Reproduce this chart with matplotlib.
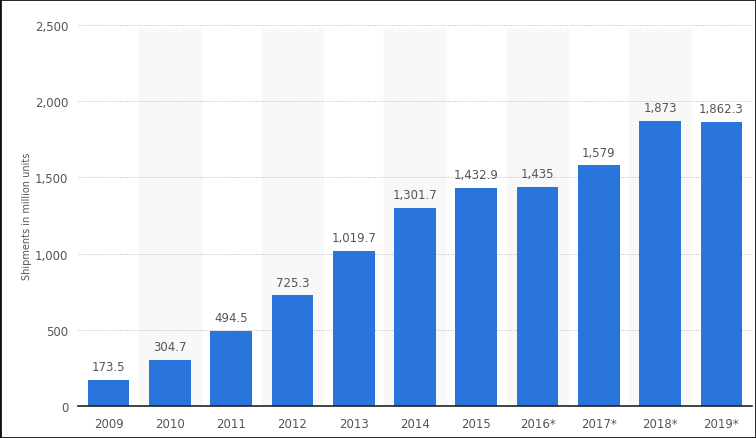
import matplotlib
matplotlib.use('Agg')
import matplotlib.pyplot as plt

years = ['2009', '2010', '2011', '2012', '2013', '2014', '2015',
         '2016*', '2017*', '2018*', '2019*']
shipments = [173.5, 304.7, 494.5, 725.3, 1019.7, 1301.7, 1432.9,
             1435, 1579, 1873, 1862.3]
value_labels = ['173.5', '304.7', '494.5', '725.3', '1,019.7', '1,301.7',
                '1,432.9', '1,435', '1,579', '1,873', '1,862.3']
yticks = [0, 500, 1000, 1500, 2000, 2500]

bar_color = '#2a75dc'
txt = '#555555'

fig = plt.figure(figsize=(7.56, 4.39), dpi=100)
ax = fig.add_axes([78 / 756, 32 / 439, 674 / 756, 381 / 439])

x = list(range(len(years)))

# striped background columns
for i in x:
    if i % 2 == 1:
        ax.axvspan(i - 0.5, i + 0.5, ymin=0, ymax=0.99, color='#f8f8f8', zorder=0)

ax.bar(x, shipments, width=0.68, color=bar_color, zorder=3)
for xi, v, lab in zip(x, shipments, value_labels):
    ax.text(xi, v + 45, lab, ha='center', va='bottom', fontsize=8.5, color=txt, zorder=4)

ax.set_xlim(-0.5, len(years) - 0.5)
ax.set_ylim(0, 2500)
ax.set_yticks(yticks)
ax.set_yticklabels(['{:,}'.format(t) for t in yticks])
ax.set_xticks(x)
ax.set_xticklabels(years)
ax.tick_params(axis='both', length=0, labelsize=8.5, colors=txt)
ax.tick_params(axis='y', pad=7)
ax.tick_params(axis='x', pad=8)

ax.yaxis.grid(True, linestyle=(0, (1, 1.5)), color='#bbbbbb', linewidth=0.7, zorder=1)
for s in ['top', 'right', 'left']:
    ax.spines[s].set_visible(False)
ax.spines['bottom'].set_color('#222222')
ax.spines['bottom'].set_linewidth(1.2)
ax.spines['bottom'].set_zorder(5)

ax.set_ylabel('Shipments in million units', fontsize=7, color=txt, labelpad=2)

# outer border
fig.patches.append(plt.Rectangle((0, 0), 1, 1, transform=fig.transFigure,
                                 fill=False, edgecolor='#111111', linewidth=2))

fig.savefig('out.png', dpi=100)
